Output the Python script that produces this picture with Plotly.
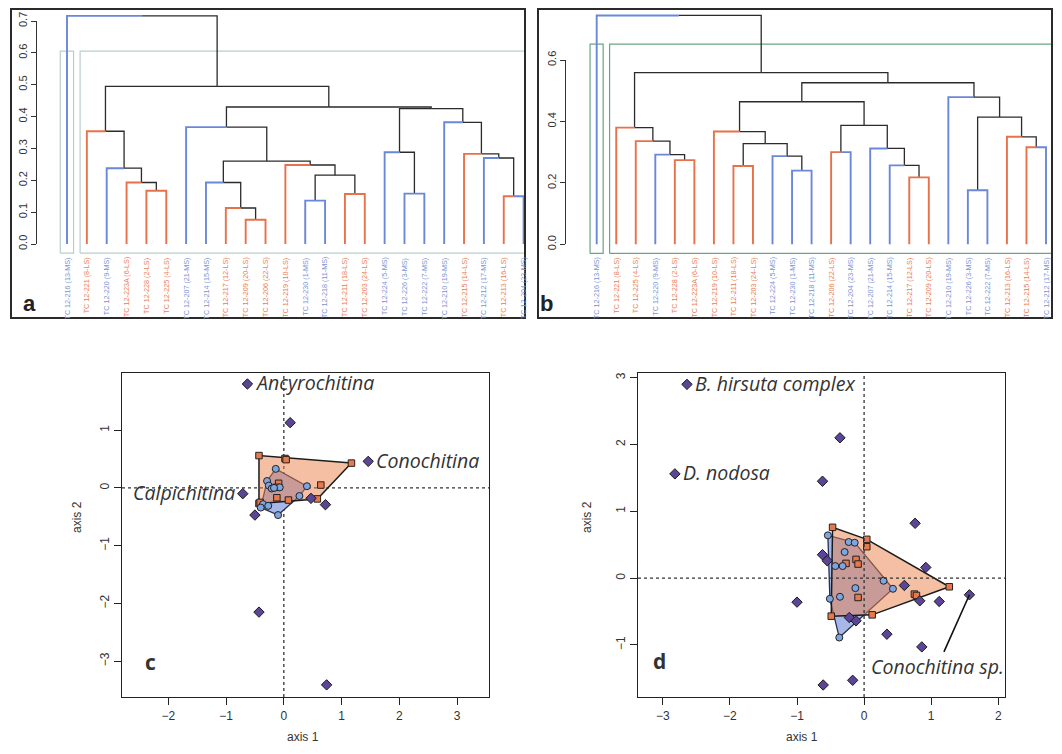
import plotly.graph_objects as go

# The page body adds an 8px border; the figure is sized so that reference pixel p lands at p
# and the page does not overflow the window.
OFF = 8
W, H = 1062 - 2 * OFF, 754 - 2 * OFF


def fx(p):
    return (p - OFF) / W


def fy(p):
    return 1 - (p - OFF) / H


# ---------------- DATA ----------------
# Dendrogram a: leaves in plotted order and merges (scipy-like linkage; leaves 0..23, nodes 24+)
labels_a = ["TC 12-216 (13-MS)", "TC 12-221 (8-LS)", "TC 12-220 (9-MS)", "TC 12-223A (6-LS)",
            "TC 12-228 (2-LS)", "TC 12-225 (4-LS)", "TC 12-207 (21-MS)", "TC 12-214 (15-MS)",
            "TC 12-217 (12-LS)", "TC 12-209 (20-LS)", "TC 12-206 (22-LS)", "TC 12-219 (10-LS)",
            "TC 12-230 (1-MS)", "TC 12-218 (11-MS)", "TC 12-211 (18-LS)", "TC 12-203 (24-LS)",
            "TC 12-224 (5-MS)", "TC 12-226 (3-MS)", "TC 12-222 (7-MS)", "TC 12-210 (19-MS)",
            "TC 12-215 (14-LS)", "TC 12-212 (17-MS)", "TC 12-213 (16-LS)", "TC 12-204 (23-MS)"]
merge_left_a = [9, 8, 12, 22, 14, 17, 4, 3, 7, 26, 2, 11, 32, 21, 20, 16, 1, 6, 19, 39, 41, 40, 0]
merge_right_a = [10, 24, 13, 23, 15, 18, 5, 30, 25, 28, 31, 33, 35, 27, 37, 29, 34, 36, 38, 42, 43, 44, 45]
merge_height_a = [0.076, 0.113, 0.136, 0.150, 0.157, 0.158, 0.167, 0.193, 0.193, 0.216, 0.238, 0.248,
                  0.260, 0.270, 0.283, 0.288, 0.354, 0.367, 0.382, 0.425, 0.430, 0.495, 0.716]
yticks_a = [0.0, 0.1, 0.2, 0.3, 0.4, 0.5, 0.6, 0.7]

# Dendrogram b
labels_b = ["TC 12-216 (13-MS)", "TC 12-221 (8-LS)", "TC 12-225 (4-LS)", "TC 12-220 (9-MS)",
            "TC 12-228 (2-LS)", "TC 12-223A (6-LS)", "TC 12-219 (10-LS)", "TC 12-211 (18-LS)",
            "TC 12-203 (24-LS)", "TC 12-224 (5-MS)", "TC 12-230 (1-MS)", "TC 12-218 (11-MS)",
            "TC 12-206 (22-LS)", "TC 12-204 (23-MS)", "TC 12-207 (21-MS)", "TC 12-214 (15-MS)",
            "TC 12-217 (12-LS)", "TC 12-209 (20-LS)", "TC 12-210 (19-MS)", "TC 12-226 (3-MS)",
            "TC 12-222 (7-MS)", "TC 12-213 (16-LS)", "TC 12-215 (14-LS)", "TC 12-212 (17-MS)"]
merge_left_b = [19, 16, 10, 7, 15, 4, 9, 3, 12, 14, 22, 27, 2, 21, 6, 1, 32, 24, 38, 18, 42, 39, 0]
merge_right_b = [20, 17, 11, 8, 25, 5, 26, 29, 13, 28, 23, 30, 31, 34, 35, 36, 33, 37, 40, 41, 43, 44, 45]
merge_height_b = [0.176, 0.218, 0.240, 0.255, 0.257, 0.274, 0.287, 0.292, 0.300, 0.312, 0.316, 0.328,
                  0.336, 0.350, 0.367, 0.380, 0.387, 0.414, 0.464, 0.479, 0.526, 0.559, 0.745]
yticks_b = [0.0, 0.2, 0.4, 0.6]

# Ordination c
c_ls_x = [-0.43, 0.02, 0.04, 1.17, -0.09, -0.13, 0.64, -0.12, 0.08, 0.58, -0.43, -0.41]
c_ls_y = [0.56, 0.51, 0.49, 0.43, 0.08, 0.01, 0.05, -0.17, -0.21, -0.19, -0.27, -0.25]
c_ms_x = [-0.14, -0.29, -0.26, -0.21, -0.07, 0.40, 0.27, -0.36, -0.40, -0.27, -0.10, -0.17]
c_ms_y = [0.33, 0.12, 0.04, -0.01, 0.01, 0.03, -0.14, -0.28, -0.34, -0.31, -0.47, 0.00]
c_taxa_x = [-0.63, 0.11, 1.46, -0.71, 0.72, -0.50, -0.43, 0.74, 0.47]
c_taxa_y = [1.80, 1.13, 0.46, -0.10, -0.29, -0.47, -2.15, -3.41, -0.18]
c_label_names = ["Ancyrochitina", "Conochitina", "Calpichitina"]
c_label_index = [0, 2, 3]
c_xticks = [-2, -1, 0, 1, 2, 3]
c_yticks = [-3, -2, -1, 0, 1]

# Ordination d
d_ls_x = [-0.47, 0.04, 0.04, -0.27, -0.12, -0.09, -0.09, 0.75, 0.78, 1.27, -0.49, 0.12]
d_ls_y = [0.76, 0.58, 0.47, 0.22, 0.28, 0.21, -0.29, -0.24, -0.26, -0.13, -0.57, -0.55]
d_ms_x = [-0.54, -0.23, -0.14, -0.29, -0.43, -0.32, 0.29, 0.43, -0.13, -0.36, -0.51, -0.37]
d_ms_y = [0.64, 0.54, 0.53, 0.39, 0.18, 0.18, -0.04, -0.16, -0.15, -0.28, -0.31, -0.89]
d_taxa_x = [-2.64, -2.82, -0.36, -0.62, 0.76, -0.62, -0.55, 0.92, 0.60, 0.83, 1.12, 1.57,
            -1.00, -0.22, -0.12, 0.34, 0.86, -0.61, -0.17]
d_taxa_y = [2.90, 1.56, 2.10, 1.45, 0.82, 0.35, 0.26, 0.16, -0.11, -0.34, -0.35, -0.25,
            -0.36, -0.59, -0.64, -0.84, -1.03, -1.60, -1.53]
d_label_names = ["B. hirsuta complex", "D. nodosa"]
d_label_index = [0, 1]
d_pointer_name = "Conochitina sp."
d_pointer_index = 11
d_xticks = [-3, -2, -1, 0, 1, 2]
d_yticks = [-1, 0, 1, 2, 3]

# ---------------- STYLE ----------------
BLUE = '#6b88d8'
ORANGE = '#e8714a'
BLUE_TXT = '#7b93d4'
ORANGE_TXT = '#ec7c55'
DARK = '#2b2b2b'
TICKFONT = "Liberation Sans, Arial, sans-serif"
TAXAFONT = "Open Sans, Noto Sans, sans-serif"

fig = go.Figure()
layout = {}
annotations = []
shapes = []


def clamp(v):
    return min(1.0, max(0.0, v))


def convex_hull(xs, ys):
    pts = sorted(set(zip(xs, ys)))

    def cross(o, a, b):
        return (a[0] - o[0]) * (b[1] - o[1]) - (a[1] - o[1]) * (b[0] - o[0])
    lower, upper = [], []
    for p in pts:
        while len(lower) >= 2 and cross(lower[-2], lower[-1], p) <= 0:
            lower.pop()
        lower.append(p)
    for p in reversed(pts):
        while len(upper) >= 2 and cross(upper[-2], upper[-1], p) <= 0:
            upper.pop()
        upper.append(p)
    hull = lower[:-1] + upper[:-1]
    hull.append(hull[0])
    return [p[0] for p in hull], [p[1] for p in hull]


def add_dendro(labels, left, right, height, yticks, k, tk, frame, leaf0_px, leafn_px,
               zero_py, top_py, axis_px, rect_color, letter, letter_pos):
    n = len(labels)
    groups = ['MS' if 'MS' in s else 'LS' for s in labels]
    xs = [i + 1 for i in range(n)]
    hs = [0.0] * n
    sizes = [1] * n
    seg = {'node': [[], []], 'MS': [[], []], 'LS': [[], []]}
    for l, r, h in zip(left, right, height):
        xm = (xs[l] + xs[r]) / 2
        for c in (l, r):
            key = groups[c] if c < n else 'node'
            seg[key][0] += [xm, xs[c], xs[c], None]
            seg[key][1] += [h, h, hs[c], None]
        xs.append(xm)
        hs.append(h)
        sizes.append(sizes[l] + sizes[r])

    x0p, y0p, x1p, y1p = frame
    sx = (leafn_px - leaf0_px) / (n - 1)
    xr = [1 - (leaf0_px - x0p) / sx, n + (x1p - leafn_px) / sx]
    sy = (zero_py - top_py) / yticks[-1]
    yr = [-(y1p - zero_py) / sy, (zero_py - y0p) / sy]
    xkey = 'xaxis' + k if k else 'xaxis'
    ykey = 'yaxis' + k if k else 'yaxis'
    xid = 'x' + k if k else 'x'
    yid = 'y' + k if k else 'y'
    ytid = 'y' + tk
    layout[xkey] = dict(domain=[clamp(fx(x0p)), clamp(fx(x1p))], range=xr, visible=False, anchor=yid,
                        fixedrange=True, automargin=False)
    layout[ykey] = dict(domain=[clamp(fy(y1p)), clamp(fy(y0p))], range=yr, visible=False, anchor=xid,
                        fixedrange=True, automargin=False)

    # cluster rectangles (k = 2)
    kl = sizes[left[-1]]
    ytop = (height[-1] + height[-2]) / 2
    ybot = -0.04 * max(height)
    for a, b in [(0.66, kl + 0.33), (kl + 0.66, n + 0.33)]:
        fig.add_trace(go.Scatter(x=[a, b, b, a, a], y=[ybot, ybot, ytop, ytop, ybot], mode='lines',
                                 line=dict(color=rect_color, width=1.2), xaxis=xid, yaxis=yid,
                                 hoverinfo='skip', showlegend=False))
    styles = {'node': (DARK, 1.3), 'MS': (BLUE, 1.9), 'LS': (ORANGE, 1.9)}
    for key in ['node', 'MS', 'LS']:
        col, wd = styles[key]
        fig.add_trace(go.Scatter(x=seg[key][0], y=seg[key][1], mode='lines',
                                 line=dict(color=col, width=wd), xaxis=xid, yaxis=yid,
                                 hoverinfo='skip', showlegend=False))
    # leaf labels
    for i, (s, g) in enumerate(zip(labels, groups)):
        annotations.append(dict(x=i + 1, y=-0.036, xref=xid, yref=yid, text=s, showarrow=False,
                                textangle=-90, xanchor='center', yanchor='top',
                                font=dict(size=7.2, color=BLUE_TXT if g == 'MS' else ORANGE_TXT,
                                          family=TICKFONT)))
    # R-style height axis from 0 to top tick
    ytkey = 'yaxis' + tk
    layout[ytkey] = dict(domain=[fy(zero_py), fy(top_py)], range=[yticks[0], yticks[-1]], anchor='free',
                         position=fx(axis_px), tickvals=yticks, tickformat='.1f', ticks='outside',
                         ticklen=5, tickwidth=1, tickcolor='#333', showline=True, linecolor='#333',
                         linewidth=1, showgrid=False, zeroline=False, tickangle=-90, automargin=False,
                         tickfont=dict(size=11, color='#333', family=TICKFONT), fixedrange=True)
    fig.add_trace(go.Scatter(x=xs[n:], y=hs[n:], mode='markers', marker=dict(opacity=0),
                             xaxis=xid, yaxis=ytid, hoverinfo='skip', showlegend=False))
    shapes.append(dict(type='rect', xref='paper', yref='paper', x0=fx(x0p), x1=fx(x1p),
                       y0=fy(y1p), y1=fy(y0p), line=dict(color='#2a2a2a', width=2), layer='above'))
    annotations.append(dict(x=fx(letter_pos[0]), y=fy(letter_pos[1]), xref='paper', yref='paper',
                            text='<b>%s</b>' % letter, showarrow=False,
                            font=dict(size=22, color='#222', family="Liberation Sans, Arial")))


add_dendro(labels_a, merge_left_a, merge_right_a, merge_height_a, yticks_a, '', '5',
           (11, 9, 525, 318), 67, 523.6, 244, 21, 36, '#b7cfca', 'a', (21, 303))
add_dendro(labels_b, merge_left_b, merge_right_b, merge_height_b, yticks_b, '2', '6',
           (538, 9, 1052, 318), 596.7, 1046, 244.3, 60, 565, '#6aa586', 'b', (546, 303))


def add_ord(k, ls_x, ls_y, ms_x, ms_y, tx, ty, xr, yr, xticks, yticks, box, dots_above,
            letter, letter_pos, xtitle_px, ytitle_px):
    xid, yid = 'x' + k, 'y' + k
    x0p, y0p, x1p, y1p = box
    common = dict(showline=True, mirror=True, linecolor='#222', linewidth=1.3, ticks='outside',
                  ticklen=7, tickwidth=1.2, tickcolor='#222', showgrid=False, zeroline=False,
                  automargin=False,
                  tickfont=dict(size=12, color='#333', family=TICKFONT), fixedrange=True)
    layout['xaxis' + k] = dict(domain=[fx(x0p), fx(x1p)], range=xr, anchor=yid, tickvals=xticks, **common)
    layout['yaxis' + k] = dict(domain=[fy(y1p), fy(y0p)], range=yr, anchor=xid, tickvals=yticks,
                               tickangle=-90, **common)
    hx, hy = convex_hull(ms_x, ms_y)
    fig.add_trace(go.Scatter(x=hx, y=hy, mode='lines', fill='toself', fillcolor='#a7b7e8',
                             line=dict(color='#24304f', width=1.3), xaxis=xid, yaxis=yid,
                             hoverinfo='skip', showlegend=False))
    hx, hy = convex_hull(ls_x, ls_y)
    fig.add_trace(go.Scatter(x=hx, y=hy, mode='lines', fill='toself', fillcolor='rgba(236,128,72,0.5)',
                             line=dict(color='#1b1b1b', width=1.5), xaxis=xid, yaxis=yid,
                             hoverinfo='skip', showlegend=False))
    fig.add_trace(go.Scatter(x=ls_x, y=ls_y, mode='markers', xaxis=xid, yaxis=yid, showlegend=False,
                             marker=dict(symbol='square', size=6.5, color='#e8794a',
                                         line=dict(color='#222', width=1))))
    fig.add_trace(go.Scatter(x=ms_x, y=ms_y, mode='markers', xaxis=xid, yaxis=yid, showlegend=False,
                             marker=dict(symbol='circle', size=7, color='#7ea5e0',
                                         line=dict(color='#222', width=1))))
    fig.add_trace(go.Scatter(x=tx, y=ty, mode='markers', xaxis=xid, yaxis=yid, showlegend=False,
                             marker=dict(symbol='diamond', size=8, color='#5b4596',
                                         line=dict(color='#1a1a1a', width=1))))
    layer = 'above' if dots_above else 'below'
    shapes.append(dict(type='line', xref=xid + ' domain', yref=yid, x0=0, x1=1, y0=0, y1=0,
                       line=dict(color='#333', width=1.3, dash='dot'), layer=layer))
    shapes.append(dict(type='line', xref=xid, yref=yid + ' domain', x0=0, x1=0, y0=0, y1=1,
                       line=dict(color='#333', width=1.3, dash='dot'), layer=layer))
    annotations.append(dict(x=fx(letter_pos[0]), y=fy(letter_pos[1]), xref='paper', yref='paper',
                            text='<b>%s</b>' % letter, showarrow=False,
                            font=dict(size=21, color='#333', family=TAXAFONT)))
    annotations.append(dict(x=fx(xtitle_px[0]), y=fy(xtitle_px[1]), xref='paper', yref='paper',
                            text='axis 1', showarrow=False, yanchor='bottom',
                            font=dict(size=12, color='#333', family=TICKFONT)))
    annotations.append(dict(x=fx(ytitle_px[0]), y=fy(ytitle_px[1]), xref='paper', yref='paper',
                            text='axis 2', showarrow=False, textangle=-90,
                            font=dict(size=12, color='#333', family=TICKFONT)))
    return xid, yid


def taxa_label(xid, yid, x, y, name, side):
    annotations.append(dict(x=x, y=y, xref=xid, yref=yid, text='<i>%s</i>' % name, showarrow=False,
                            xanchor='left' if side > 0 else 'right', yanchor='middle',
                            xshift=6 * side, yshift=1,
                            font=dict(size=19.5, color='#333', family=TAXAFONT)))


xid, yid = add_ord('3', c_ls_x, c_ls_y, c_ms_x, c_ms_y, c_taxa_x, c_taxa_y, [-2.80, 3.55], [-3.62, 1.99],
                   c_xticks, c_yticks, (122, 373, 489, 697), False, 'c', (143, 678), (285, 746), (68, 535))
for name, i in zip(c_label_names, c_label_index):
    side = -1 if c_taxa_x[i] < -0.68 else 1
    taxa_label(xid, yid, c_taxa_x[i], c_taxa_y[i], name, side)

xid, yid = add_ord('4', d_ls_x, d_ls_y, d_ms_x, d_ms_y, d_taxa_x, d_taxa_y, [-3.37, 2.10], [-1.78, 3.07],
                   d_xticks, d_yticks, (638, 373, 1005, 697), True, 'd', (659, 677), (820, 746), (587, 535))
for name, i in zip(d_label_names, d_label_index):
    taxa_label(xid, yid, d_taxa_x[i], d_taxa_y[i], name, 1)
annotations.append(dict(x=d_taxa_x[d_pointer_index], y=d_taxa_y[d_pointer_index], xref=xid, yref=yid,
                        ax=1.09, ay=-1.33, axref=xid, ayref=yid, text='<i>%s</i>' % d_pointer_name,
                        showarrow=True, arrowhead=0, arrowwidth=1.6, arrowcolor='#111', standoff=0,
                        font=dict(size=19.5, color='#333', family=TAXAFONT)))

fig.update_layout(template='none', width=W, height=H, margin=dict(l=0, r=0, t=0, b=0, pad=0),
                  paper_bgcolor='white', plot_bgcolor='rgba(0,0,0,0)', showlegend=False,
                  annotations=annotations, shapes=shapes, **layout)
fig.write_html("out.html")
